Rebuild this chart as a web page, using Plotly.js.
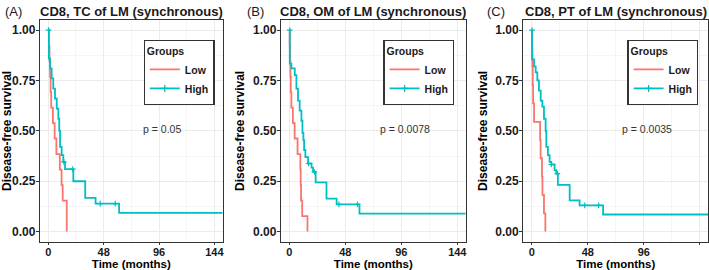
<!DOCTYPE html>
<html>
<head>
<meta charset="utf-8">
<script src="https://cdn.plot.ly/plotly-3.0.1.min.js"></script>
<style>html,body{margin:0;padding:0;background:#fff;}#chart{width:709px;height:270px;}</style>
</head>
<body>
<div id="chart"></div>
<script>
// ---------- data ----------
const groupNames = ["Low", "High"];
const panelLetters = ["(A)", "(B)", "(C)"];
const panelTitles = ["CD8, TC of LM (synchronous)", "CD8, OM of LM (synchronous)", "CD8, PT of LM (synchronous)"];
const pValues = ["p = 0.05", "p = 0.0078", "p = 0.0035"];
const xTicks = [0, 48, 96, 144];
const yTicks = [0, 0.25, 0.5, 0.75, 1];

// Panel A
const lowA_t = [0, 0.5, 1, 1.5, 2, 2.5, 4, 5.5, 7, 10, 11.5, 12.5, 16];
const lowA_s = [1, 0.923, 0.846, 0.769, 0.692, 0.615, 0.538, 0.462, 0.385, 0.308, 0.231, 0.154, 0];
const highA_t = [0, 0.5, 1.5, 2.9, 4.3, 5.8, 7.3, 8.7, 9.5, 10.2, 11.6, 13, 14.5, 21.7, 32, 41, 61.4, 151.2];
const highA_s = [1, 0.86, 0.81, 0.76, 0.71, 0.66, 0.61, 0.56, 0.50, 0.42, 0.38, 0.346, 0.31, 0.25, 0.167, 0.139, 0.093, 0.093];
const censA_t = [0.3, 13.5, 21.2, 45, 58];
const censA_s = [1, 0.346, 0.31, 0.139, 0.139];

// Panel B
const lowB_t = [0, 0.3, 0.6, 0.9, 1.2, 1.7, 3, 4.5, 7, 9.4, 9.7, 10, 11, 15.5];
const lowB_s = [1, 0.923, 0.846, 0.769, 0.692, 0.615, 0.538, 0.462, 0.385, 0.308, 0.231, 0.154, 0.077, 0];
const highB_t = [0, 0.3, 1.7, 4.6, 6, 7.4, 8.8, 10.3, 11.2, 12, 12.6, 13.7, 16, 19, 20.3, 22.5, 31.8, 40.5, 60.1, 151.2];
const highB_s = [1, 0.834, 0.81, 0.776, 0.71, 0.65, 0.60, 0.55, 0.49, 0.454, 0.405, 0.37, 0.338, 0.318, 0.296, 0.244, 0.164, 0.135, 0.089, 0.089];
const censB_t = [0.3, 16.4, 21.5, 42.5, 58.4];
const censB_s = [1, 0.338, 0.296, 0.135, 0.135];

// Panel C
const lowC_t = [0, 0.3, 0.6, 0.9, 1.2, 2, 7.2, 7.6, 8.8, 9.2, 10.5, 11.7];
const lowC_s = [1, 0.909, 0.818, 0.727, 0.636, 0.545, 0.455, 0.364, 0.273, 0.182, 0.091, 0];
const highC_t = [0, 0.3, 2, 3.4, 4.8, 6.2, 7.7, 9.1, 10.5, 11.9, 12.5, 13.9, 15.3, 16.8, 19.6, 21, 22.4, 32.5, 41, 61.1, 151.2];
const highC_s = [1, 0.855, 0.82, 0.79, 0.75, 0.70, 0.65, 0.62, 0.56, 0.5, 0.42, 0.38, 0.346, 0.333, 0.305, 0.288, 0.232, 0.155, 0.13, 0.085, 0.085];
const censC_t = [0.3, 16.8, 22, 45.4, 57.3];
const censC_s = [1, 0.333, 0.288, 0.13, 0.13];

// ---------- styling ----------
const FONT = "Liberation Sans, Arial, sans-serif";
const LOW_COLOR = "#F8766D";
const HIGH_COLOR = "#00BFC4";
const W = 709, H = 270;
const xDomPx = [[40, 222.7], [281, 465.7], [523.3, 708.3]];
const yDom = [(H - 241.7) / H, (H - 20) / H];
const legendCenters = [179, 418.8, 662.8];

const panels = [
  {low: [lowA_t, lowA_s], high: [highA_t, highA_s], cens: [censA_t, censA_s]},
  {low: [lowB_t, lowB_s], high: [highB_t, highB_s], cens: [censB_t, censB_s]},
  {low: [lowC_t, lowC_s], high: [highC_t, highC_s], cens: [censC_t, censC_s]}
];

const data = [];
const layout = {
  width: W, height: H,
  margin: {l: 0, r: 0, t: 0, b: 0},
  paper_bgcolor: "#fff", plot_bgcolor: "#fff",
  font: {family: FONT, color: "#1a1a1a"},
  showlegend: true,
  annotations: []
};

panels.forEach((p, i) => {
  const sfx = i === 0 ? "" : String(i + 1);
  const xa = "x" + sfx, ya = "y" + sfx;
  const lg = "legend" + sfx;
  data.push({x: p.low[0], y: p.low[1], mode: "lines", line: {shape: "hv", color: LOW_COLOR, width: 1.8},
             xaxis: xa, yaxis: ya, showlegend: false, hoverinfo: "skip"});
  data.push({x: p.high[0], y: p.high[1], mode: "lines", line: {shape: "hv", color: HIGH_COLOR, width: 1.8},
             xaxis: xa, yaxis: ya, showlegend: false, hoverinfo: "skip"});
  data.push({x: p.cens[0], y: p.cens[1], mode: "markers",
             marker: {symbol: "cross-thin", size: 4, color: HIGH_COLOR, line: {width: 1.2, color: HIGH_COLOR}},
             xaxis: xa, yaxis: ya, showlegend: false, hoverinfo: "skip"});
  // legend entries
  data.push({x: [null], y: [null], mode: "lines", name: groupNames[0], line: {color: LOW_COLOR, width: 1.8},
             xaxis: xa, yaxis: ya, legend: lg, showlegend: true});
  data.push({x: [null], y: [null], mode: "lines+markers", name: groupNames[1], line: {color: HIGH_COLOR, width: 1.8},
             marker: {symbol: "cross-thin", size: 5, color: HIGH_COLOR, line: {width: 1.3, color: HIGH_COLOR}},
             xaxis: xa, yaxis: ya, legend: lg, showlegend: true});

  layout["xaxis" + sfx] = {
    domain: [xDomPx[i][0] / W, xDomPx[i][1] / W], anchor: ya,
    range: [-7.2, 151.2], tickvals: xTicks, ticktext: xTicks.map(String),
    showline: true, mirror: true, linecolor: "#333", linewidth: 1.2,
    ticks: "outside", ticklen: 2.5, tickcolor: "#333", tickwidth: 1, ticklabelstandoff: -3,
    showgrid: true, gridcolor: "#ebebeb", gridwidth: 1, zeroline: false,
    minor: {dtick: 24, tick0: 0, showgrid: true, gridcolor: "#f5f5f5", gridwidth: 1},
    tickfont: {family: FONT, size: 11, color: "#1a1a1a", weight: "bold"},
    title: {text: "Time (months)", font: {family: FONT, size: 11.5, color: "#000", weight: "bold"}, standoff: 1}
  };
  layout["yaxis" + sfx] = {
    domain: yDom, anchor: xa,
    range: [-0.05, 1.05], tickvals: yTicks, ticktext: yTicks.map(v => v.toFixed(2)),
    showline: true, mirror: true, linecolor: "#333", linewidth: 1.2,
    ticks: "outside", ticklen: 3, tickcolor: "#333", tickwidth: 1, ticklabelstandoff: -2,
    showgrid: true, gridcolor: "#ebebeb", gridwidth: 1, zeroline: false,
    minor: {dtick: 0.125, tick0: 0, showgrid: true, gridcolor: "#f5f5f5", gridwidth: 1},
    tickfont: {family: FONT, size: 12, color: "#1a1a1a", weight: "bold"},
    title: {text: "Disease-free survival", font: {family: FONT, size: 12, color: "#000", weight: "bold"}, standoff: 5}
  };
  layout[lg] = {
    x: legendCenters[i] / W, xanchor: "center", y: 1 - 40 / H, yanchor: "top",
    bgcolor: "#fff", bordercolor: "#333", borderwidth: 1.3,
    font: {family: FONT, size: 10.5, color: "#1a1a1a", weight: "bold"},
    title: {text: "Groups", font: {family: FONT, size: 10.5, color: "#1a1a1a", weight: "bold"}},
    tracegroupgap: 0, itemwidth: 30
  };
  // panel letter and title
  layout.annotations.push({xref: "paper", yref: "paper", x: [2.7, 245, 485][i] / W, y: 1 - 11 / H,
    xanchor: "left", yanchor: "middle", text: panelLetters[i], showarrow: false,
    font: {family: FONT, size: 13, color: "#1a1a1a"}});
  layout.annotations.push({xref: "paper", yref: "paper", x: (xDomPx[i][0] + xDomPx[i][1]) / 2 / W, y: 1 - 11 / H,
    xanchor: "center", yanchor: "middle", text: panelTitles[i], showarrow: false,
    font: {family: FONT, size: 13, color: "#1a1a1a", weight: "bold"}});
  layout.annotations.push({xref: xa, yref: ya, x: 99, y: 0.51, xanchor: "center", yanchor: "middle",
    text: pValues[i], showarrow: false, font: {family: FONT, size: 10.5, color: "#333"}});
});

Plotly.newPlot("chart", data, layout, {displayModeBar: false, staticPlot: true});
</script>
</body>
</html>
